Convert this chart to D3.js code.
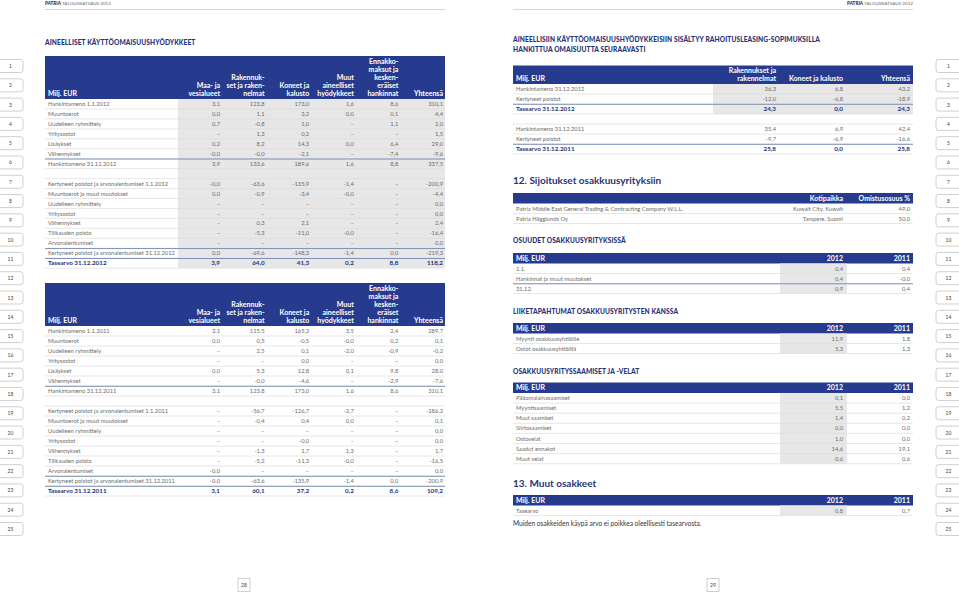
<!DOCTYPE html>
<html><head><meta charset="utf-8">
<script src="https://cdn.jsdelivr.net/npm/d3@7"></script>
<style>body{margin:0;background:#fff}svg{display:block;font-family:Lato,'Open Sans',sans-serif}</style>
</head><body><svg id="c" width="959" height="594"></svg>
<script>
const D = "–";
// ---------- data ----------
const headerBrand = "PATRIA";
const headerTitle = "TALOUSKATSAUS 2012";
const lineNumbers = [1,2,3,4,5,6,7,8,9,10,11,12,13,14,15,16,17,18,19,20,21,22,23,24,25];
const pageNumbers = ["28","29"];

const ppeTitle = "AINEELLISET KÄYTTÖOMAISUUSHYÖDYKKEET";
const ppeHeaderLines = [["Maa- ja","vesialueet"],["Rakennuk-","set ja raken-","nelmat"],["Koneet ja","kalusto"],["Muut","aineelliset","hyödykkeet"],["Ennakko-","maksut ja","kesken-","eräiset","hankinnat"],["Yhteensä"]];

const ppe2012Rows = ["Hankintameno 1.1.2012","Muuntoerot","Uudelleen ryhmittely","Yritysostot","Lisäykset","Vähennykset","Hankintameno 31.12.2012","","Kertyneet poistot ja arvonalentumiset 1.1.2012","Muuntoerot ja muut muutokset","Uudelleen ryhmittely","Yritysostot","Vähennykset","Tilikauden poisto","Arvonalentumiset","Kertyneet poistot ja arvonalentumiset 31.12.2012","Tasearvo 31.12.2012"];
const ppe2012Kinds = ["r","r","r","r","r","r","s","b","r","r","r","r","r","r","r","s","t"];
const ppe2012Values = [
 ["3,1","123,8","173,0","1,6","8,6","310,1"],
 ["0,0","1,1","3,2","0,0","0,1","4,4"],
 ["0,7","-0,8","1,0",D,"1,1","2,0"],
 [D,"1,3","0,2",D,D,"1,5"],
 ["0,2","8,2","14,3","0,0","6,4","29,0"],
 ["-0,0","-0,0","-2,1",D,"-7,4","-9,6"],
 ["3,9","133,6","189,6","1,6","8,8","337,5"],
 [],
 ["-0,0","-63,6","-135,9","-1,4",D,"-200,9"],
 ["0,0","-0,9","-3,4","-0,0",D,"-4,4"],
 [D,D,D,D,D,"0,0"],
 [D,D,D,D,D,"0,0"],
 [D,"0,3","2,1",D,D,"2,4"],
 [D,"-5,3","-11,0","-0,0",D,"-16,4"],
 [D,D,D,D,D,"0,0"],
 ["0,0","-69,6","-148,3","-1,4","0,0","-219,3"],
 ["3,9","64,0","41,3","0,2","8,8","118,2"]
];

const ppe2011Rows = ["Hankintameno 1.1.2011","Muuntoerot","Uudelleen ryhmittely","Yritysostot","Lisäykset","Vähennykset","Hankintameno 31.12.2011","","Kertyneet poistot ja arvonalentumiset 1.1.2011","Muuntoerot ja muut muutokset","Uudelleen ryhmittely","Yritysostot","Vähennykset","Tilikauden poisto","Arvonalentumiset","Kertyneet poistot ja arvonalentumiset 31.12.2011","Tasearvo 31.12.2011"];
const ppe2011Kinds = ["r","r","r","r","r","r","s","b","r","r","r","r","r","r","r","s","t"];
const ppe2011Values = [
 ["3,1","115,5","165,3","3,5","2,4","289,7"],
 ["0,0","0,5","-0,5","-0,0","0,2","0,1"],
 [D,"2,5","0,1","-2,0","-0,9","-0,2"],
 [D,D,"0,0",D,D,"0,0"],
 ["0,0","5,3","12,8","0,1","9,8","28,0"],
 [D,"-0,0","-4,6",D,"-2,9","-7,6"],
 ["3,1","123,8","173,0","1,6","8,6","310,1"],
 [],
 [D,"-56,7","-126,7","-2,7",D,"-186,2"],
 [D,"-0,4","0,4","0,0",D,"0,1"],
 [D,D,D,D,D,"0,0"],
 [D,D,"-0,0",D,D,"0,0"],
 [D,"-1,3","1,7","1,3",D,"1,7"],
 [D,"-5,2","-11,3","-0,0",D,"-16,5"],
 ["-0,0",D,D,D,D,"0,0"],
 ["-0,0","-63,6","-135,9","-1,4","0,0","-200,9"],
 ["3,1","60,1","37,2","0,2","8,6","109,2"]
];

const leaseTitle = ["AINEELLISIIN KÄYTTÖOMAISUUSHYÖDYKKEISIIN SISÄLTYY RAHOITUSLEASING-SOPIMUKSILLA","HANKITTUA OMAISUUTTA SEURAAVASTI"];
const leaseHeaderLines = [["Rakennukset ja","rakennelmat"],["Koneet ja kalusto"],["Yhteensä"]];
const leaseRows = ["Hankintameno 31.12.2012","Kertyneet poistot","Tasearvo 31.12.2012","","Hankintameno 31.12.2011","Kertyneet poistot","Tasearvo 31.12.2011"];
const leaseKinds = ["r","r","t","b","r","r","t"];
const leaseValues = [["36,3","6,8","43,2"],["-12,0","-6,8","-18,9"],["24,3","0,0","24,3"],[],["35,4","6,9","42,4"],["-9,7","-6,9","-16,6"],["25,8","0,0","25,8"]];

const assocTitle = "12. Sijoitukset osakkuusyrityksiin";
const assocHeaderLines = [["Kotipaikka"],["Omistusosuus %"]];
const assocRows = ["Patria Middle East General Trading & Contracting Company W.L.L.","Patria Hägglunds Oy"];
const assocKinds = ["r","r"];
const assocValues = [["Kuwait City, Kuwait","49,0"],["Tampere, Suomi","50,0"]];

const yearHeaderLines = [["2012"],["2011"]];

const sharesTitle = "OSUUDET OSAKKUUSYRITYKSISSÄ";
const sharesRows = ["1.1.","Hankinnat ja muut muutokset","31.12."];
const sharesKinds = ["r","r","s"];
const sharesValues = [["0,4","0,4"],["0,4","-0,0"],["0,9","0,4"]];

const transTitle = "LIIKETAPAHTUMAT OSAKKUUSYRITYSTEN KANSSA";
const transRows = ["Myynti osakkuusyhtiöille","Ostot osakkuusyhtiöiltä"];
const transKinds = ["r","r"];
const transValues = [["11,9","1,8"],["5,3","1,3"]];

const recTitle = "OSAKKUUSYRITYSSAAMISET JA -VELAT";
const recRows = ["Pääomalainasaamiset","Myyntisaamiset","Muut saamiset","Siirtosaamiset","Ostovelat","Saadut ennakot","Muut velat"];
const recKinds = ["r","r","r","r","r","r","r"];
const recValues = [["0,1","0,0"],["5,5","1,2"],["1,4","0,2"],["0,0","0,0"],["1,0","0,0"],["14,6","19,1"],["0,6","0,6"]];

const otherTitle = "13. Muut osakkeet";
const otherRows = ["Tasearvo"];
const otherKinds = ["r"];
const otherValues = [["0,8","0,7"]];
const otherNote = "Muiden osakkeiden käypä arvo ei poikkea oleellisesti tasearvosta.";

// ---------- style ----------
const BLUE = "#263b8e", NAVY = "#1f3477", GRAY = "#e7e7e8", TXT = "#6d6d6d", LINE = "#dcdcdc", SUBLINE = "#8190b8";
const svg = d3.select("#c");

// header strips
function pageHeader(x0, x1, anchorEnd) {
  const t = svg.append("text").attr("y", 5).attr("font-size", 4.6).attr("fill", "#333")
    .attr("x", anchorEnd ? x1 : x0).attr("text-anchor", anchorEnd ? "end" : "start");
  t.append("tspan").attr("font-weight", 900).text(headerBrand);
  t.append("tspan").attr("fill", "#666").text(" " + headerTitle);
  svg.append("line").attr("x1", x0).attr("x2", x1).attr("y1", 9.5).attr("y2", 9.5).attr("stroke", "#bbb").attr("stroke-width", 0.6);
}
pageHeader(45, 445, false);
pageHeader(513, 913, true);

// line number tabs
const tabY = d3.scalePoint().domain(lineNumbers).range([66, 529]);
function tabs(side) {
  const g = svg.append("g");
  lineNumbers.forEach(n => {
    const yc = tabY(n), h = 13, w = 23, r = 2.5;
    let p;
    if (side === "L") {
      p = `M-2,${yc-h/2} H${w-r} Q${w},${yc-h/2} ${w},${yc-h/2+r} V${yc+h/2-r} Q${w},${yc+h/2} ${w-r},${yc+h/2} H-2`;
    } else {
      const x = 959 - w;
      p = `M961,${yc-h/2} H${x+r} Q${x},${yc-h/2} ${x},${yc-h/2+r} V${yc+h/2-r} Q${x},${yc+h/2} ${x+r},${yc+h/2} H961`;
    }
    g.append("path").attr("d", p).attr("fill", "#fff").attr("stroke", "#c4c4c4").attr("stroke-width", 0.8);
    g.append("text").attr("x", side === "L" ? 10.5 : 948.5).attr("y", yc + 2).attr("text-anchor", "middle")
      .attr("font-size", 5).attr("fill", "#444").text(n);
  });
}
tabs("L"); tabs("R");

// page numbers
[[244, pageNumbers[0]], [713, pageNumbers[1]]].forEach(([cx, t]) => {
  svg.append("rect").attr("x", cx - 6).attr("y", 578.5).attr("width", 12).attr("height", 13).attr("fill", "#fff").attr("stroke", "#c4c4c4").attr("stroke-width", 0.8);
  svg.append("text").attr("x", cx).attr("y", 587).attr("text-anchor", "middle").attr("font-size", 5).attr("fill", "#444").text(t);
});

// titles
function smallTitle(x, y, t) {
  svg.append("text").attr("x", x).attr("y", y).attr("font-size", 6.6).attr("font-weight", 900)
    .attr("fill", NAVY).attr("letter-spacing", 0.1).text(t);
}
function bigTitle(x, y, t) {
  svg.append("text").attr("x", x).attr("y", y).attr("font-size", 10).attr("font-weight", 700)
    .attr("fill", NAVY).text(t);
}

// generic table
function drawTable(cfg) {
  const g = svg.append("g");
  const { x0, x1, top, headerH, rowH, headers, colRight, rows, values, kinds, shade, lineH = 8, firstHeader = "Milj. EUR" } = cfg;
  const n = rows.length;
  const y = d3.scaleBand().domain(d3.range(n)).range([top + headerH, top + headerH + n * rowH]);
  const x = d3.scaleOrdinal().domain(d3.range(headers.length)).range(colRight);
  g.append("rect").attr("x", x0).attr("y", top).attr("width", x1 - x0).attr("height", headerH).attr("fill", BLUE);
  if (shade) {
    g.append("rect").attr("x", shade[0]).attr("y", y(0)).attr("width", shade[1] - shade[0])
      .attr("height", y(shade[2] - 1) + rowH - y(0)).attr("fill", GRAY);
  }
  const base = top + headerH - 2.8;
  g.append("text").attr("x", x0 + 3).attr("y", base).attr("font-size", 7).attr("font-weight", 700).attr("fill", "#fff").text(firstHeader);
  headers.forEach((lines, j) => {
    lines.forEach((l, i) => {
      g.append("text").attr("x", x(j)).attr("y", base - (lines.length - 1 - i) * lineH)
        .attr("text-anchor", "end").attr("font-size", 7).attr("font-weight", 700).attr("fill", "#fff").text(l);
    });
  });
  rows.forEach((lab, i) => {
    const k = kinds[i];
    const yb = y(i) + rowH;
    g.append("line").attr("x1", x0).attr("x2", x1).attr("y1", yb).attr("y2", yb).attr("stroke", LINE).attr("stroke-width", 0.7);
    if (k === "s" || k === "t") {
      g.append("line").attr("x1", x0).attr("x2", x1).attr("y1", y(i) + 0.3).attr("y2", y(i) + 0.3).attr("stroke", SUBLINE).attr("stroke-width", 1);
    }
    const bold = k === "t";
    const ty = y(i) + rowH / 2 + 2.1;
    g.append("text").attr("x", x0 + 3).attr("y", ty).attr("font-size", bold ? 6.3 : 5.8)
      .attr("font-weight", bold ? 700 : 400).attr("fill", bold ? NAVY : TXT).text(lab);
    (values[i] || []).forEach((v, j) => {
      g.append("text").attr("x", x(j)).attr("y", ty).attr("text-anchor", "end").attr("font-size", bold ? 6.3 : 5.8)
        .attr("font-weight", bold ? 700 : 400).attr("fill", bold ? NAVY : TXT).text(v);
    });
  });
}

// left page
smallTitle(45, 45, ppeTitle);
const ppeRight = d3.scalePoint().domain(d3.range(6)).range([220, 443]);
const ppeCols = d3.range(6).map(i => ppeRight(i));
drawTable({ x0: 45, x1: 445, top: 56, headerH: 43, rowH: 9.95, headers: ppeHeaderLines, colRight: ppeCols,
  rows: ppe2012Rows, values: ppe2012Values, kinds: ppe2012Kinds, shade: [178, 445, ppe2012Rows.length] });
drawTable({ x0: 45, x1: 445, top: 283, headerH: 43, rowH: 10, headers: ppeHeaderLines, colRight: ppeCols,
  rows: ppe2011Rows, values: ppe2011Values, kinds: ppe2011Kinds });

// right page
smallTitle(513, 42, leaseTitle[0]);
smallTitle(513, 52, leaseTitle[1]);
drawTable({ x0: 513, x1: 913, top: 65.5, headerH: 18.5, rowH: 10, headers: leaseHeaderLines, colRight: [776, 843, 910],
  rows: leaseRows, values: leaseValues, kinds: leaseKinds, shade: [713, 913, 3] });

bigTitle(513, 184, assocTitle);
drawTable({ x0: 513, x1: 913, top: 193, headerH: 10.5, rowH: 10, headers: assocHeaderLines, colRight: [843, 910],
  rows: assocRows, values: assocValues, kinds: assocKinds, firstHeader: "" });

smallTitle(513, 243, sharesTitle);
drawTable({ x0: 513, x1: 913, top: 253, headerH: 10.5, rowH: 10, headers: yearHeaderLines, colRight: [843, 910],
  rows: sharesRows, values: sharesValues, kinds: sharesKinds, shade: [780, 847, 3] });

smallTitle(513, 314, transTitle);
drawTable({ x0: 513, x1: 913, top: 323, headerH: 10.5, rowH: 10, headers: yearHeaderLines, colRight: [843, 910],
  rows: transRows, values: transValues, kinds: transKinds, shade: [780, 847, 2] });

smallTitle(513, 374, recTitle);
drawTable({ x0: 513, x1: 913, top: 382.5, headerH: 10.5, rowH: 10.1, headers: yearHeaderLines, colRight: [843, 910],
  rows: recRows, values: recValues, kinds: recKinds, shade: [780, 847, 7] });

bigTitle(513, 487, otherTitle);
drawTable({ x0: 513, x1: 913, top: 495, headerH: 10.5, rowH: 10, headers: yearHeaderLines, colRight: [843, 910],
  rows: otherRows, values: otherValues, kinds: otherKinds, shade: [780, 847, 1] });

svg.append("text").attr("x", 513).attr("y", 525.5).attr("font-size", 6.6).attr("fill", "#333").text(otherNote);
</script></body></html>
